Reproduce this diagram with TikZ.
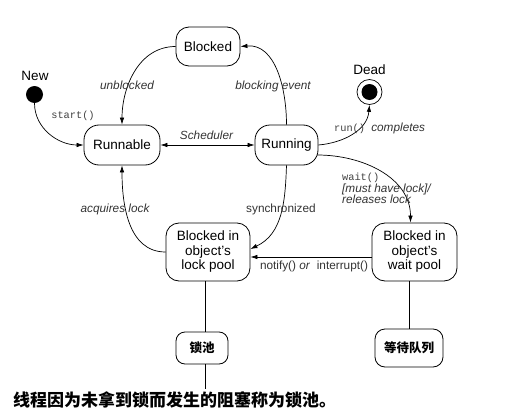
\documentclass[tikz,border=0pt]{standalone}
\usepackage{fontspec}
\setmainfont{Liberation Sans}
\setmonofont{Liberation Mono}
\newfontfamily\cjk{Noto Sans CJK SC}
\usetikzlibrary{arrows.meta,calc}
\begin{document}
\begin{tikzpicture}[x=1pt,y=-1pt,
  state/.style={draw, line width=0.8pt, rounded corners=13pt, inner sep=0pt, align=center,
    font=\fontsize{13.5}{14.5}\selectfont},
  cnbox/.style={state, rounded corners=9pt, font=\cjk\bfseries\fontsize{12.5}{13}\selectfont},
  lbl/.style={font=\fontsize{11.8}{12}\selectfont\itshape, text=black!80, inner sep=0pt},
  ulbl/.style={lbl, font=\fontsize{11.8}{12}\selectfont\upshape},
  mono/.style={font=\fontsize{10.3}{11}\ttfamily, text=black!75},
  tip/.tip={Latex[length=7pt,width=4.5pt]},
  arr/.style={draw, line width=0.7pt, -tip},
  plain/.style={draw, line width=0.8pt},
  ]
\useasboundingbox (0,0) rectangle (531,415);

% states
\node[state, minimum width=64pt, minimum height=39pt] (blocked) at (208,46.5) {Blocked};
\node[state, minimum width=76pt, minimum height=40pt, rounded corners=15pt] (runnable) at (122,145) {Runnable};
\node[state, minimum width=63pt, minimum height=40pt, rounded corners=15pt] (running) at (286.5,145) {Running};
\node[state, minimum width=84pt, minimum height=58pt] (lock) at (208,252) {Blocked in\\object's\\lock pool};
\node[state, minimum width=85pt, minimum height=58pt] (wait) at (414.5,252) {Blocked in\\object's\\wait pool};
\node[cnbox, minimum width=52pt, minimum height=32pt] (lockcn) at (202,348) {锁池};
\node[cnbox, minimum width=68pt, minimum height=38pt, rounded corners=10pt] (waitcn) at (409,348) {等待队列};

\node[circle, fill=black, minimum size=17pt, inner sep=0pt] (new) at (34.5,94.5) {};
\node[font=\fontsize{13.5}{14}\selectfont, inner sep=0pt] (newl) at (35,76) {New};
\node[circle, draw, line width=0.7pt, minimum size=25pt, inner sep=0pt] (dead) at (369.5,92) {};
\node[circle, fill=black, minimum size=16pt, inner sep=0pt] (deadin) at (dead) {};
\node[font=\fontsize{13.5}{14}\selectfont, inner sep=0pt] (deadl) at (369.5,70) {Dead};

% transitions
\draw[arr] (blocked.west) to[out=180,in=90] (runnable.north);
\draw[arr] (running.north) to[out=90,in=5] (blocked.east);
\draw[arr] (new.south) to[out=-90,in=180] (runnable.west);
\draw[line width=0.7pt, tip-tip] (runnable.east) -- (running.west);
\draw[arr] (running.east) to[out=5,in=-95] (dead.south);
\coordinate (wstart) at ($(running.east)+(-1,10)$);
\draw[arr] (wstart) to[out=0,in=90] ([xshift=-4pt]wait.north);
\draw[arr] (running.south) to[out=-92,in=25] ([yshift=3pt]lock.east);
\draw[arr] ([yshift=-5pt]wait.west) -- ([yshift=-5pt]lock.east);
\draw[arr] (lock.west) to[out=180,in=-90] (runnable.south);

% lines to Chinese boxes
\coordinate (textTop) at (205,389);
\draw[plain] (textTop |- lock.south) -- (textTop |- lockcn.north);
\draw[plain] (waitcn.north |- wait.south) -- (waitcn.north);
\draw[plain] (textTop |- lockcn.south) -- (textTop);

% labels
\node[lbl] (l1) at (127,85) {unblocked};
\node[lbl] (l2) at (273,86) {blocking event};
\node[mono] (l3) at (73,116) {start()};
\node[lbl] (l4) at (206.5,135) {Scheduler};
\node[lbl, anchor=west] (l5) at (334,128) {\fontsize{10.3}{11}\ttfamily\upshape\color{black!75}run()\ \fontsize{11.8}{12}\rmfamily\itshape\color{black!80}completes};
\node[lbl, anchor=west, align=left, font=\fontsize{11.8}{11.5}\selectfont\itshape] (l6) at (342,188.5) {{\fontsize{10.3}{11.5}\ttfamily\upshape\color{black!75}wait()}\\{}[must have lock]/\\releases lock};
\node[ulbl] (l7) at (281,209) {synchronized};
\node[ulbl] (l8) at (314,266) {notify() \textit{or} \ interrupt()};
\node[lbl] (l9) at (115,209) {acquires lock};

\node[anchor=west, inner sep=0pt, font=\cjk\bfseries\fontsize{17}{17}\selectfont] (caption) at (13,400) {线程因为未拿到锁而发生的阻塞称为锁池。};
\end{tikzpicture}
\end{document}
